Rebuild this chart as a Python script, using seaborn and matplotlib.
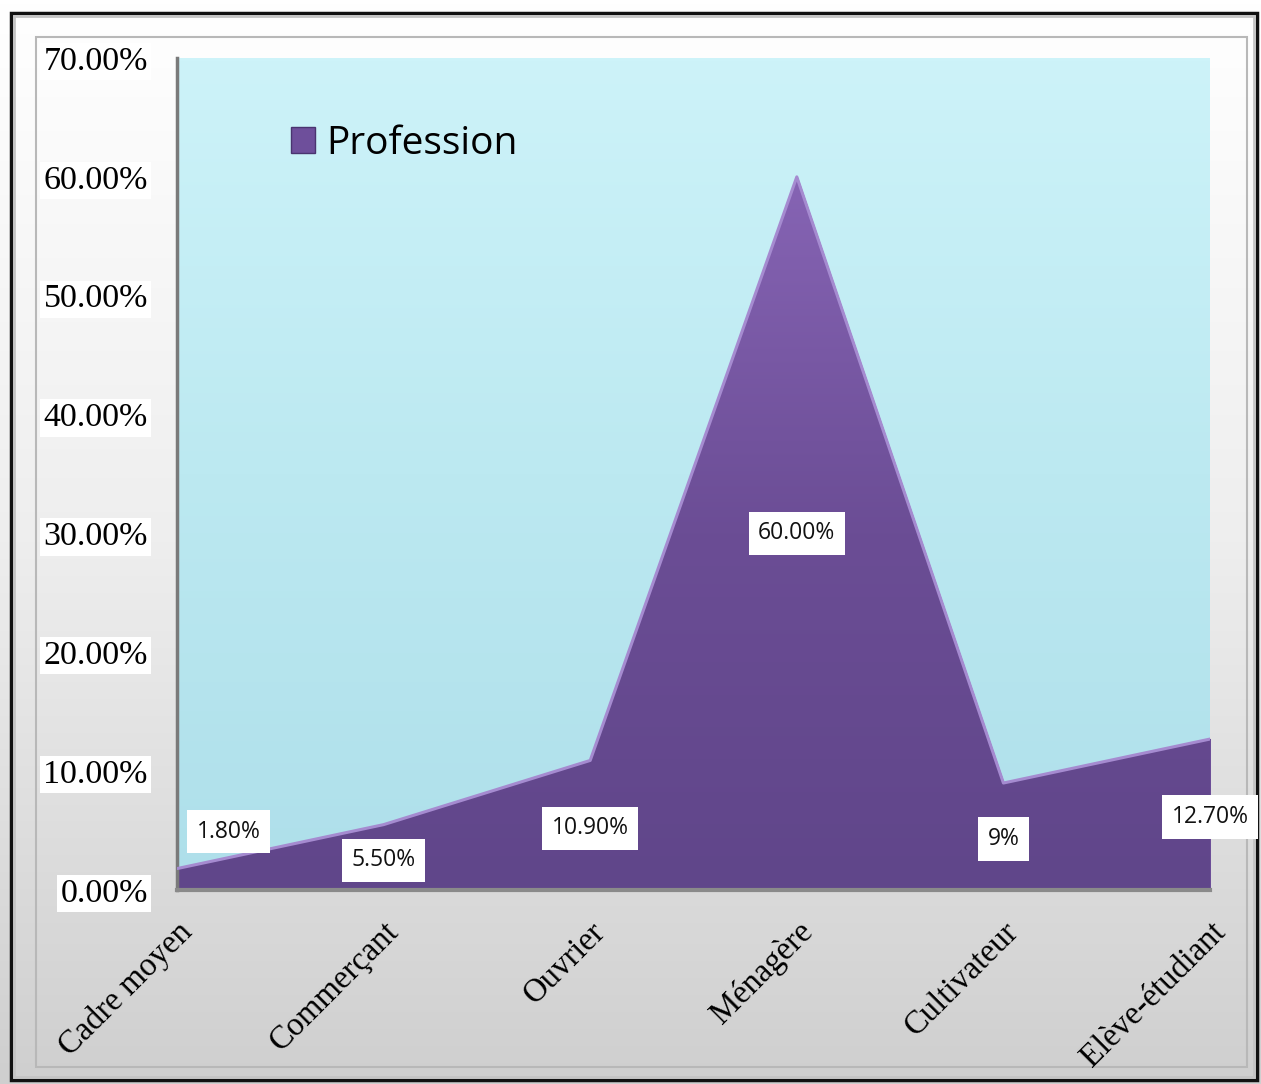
import matplotlib
matplotlib.use('Agg')
import numpy as np
import pandas as pd
import seaborn as sns
import matplotlib.pyplot as plt
from matplotlib.patches import Rectangle, Patch
from matplotlib.colors import LinearSegmentedColormap

# data
categories = ['Cadre moyen', 'Commerçant', 'Ouvrier', 'Ménagère', 'Cultivateur', 'Elève-étudiant']
values = [1.8, 5.5, 10.9, 60.0, 9.0, 12.7]
value_labels = ['1.80%', '5.50%', '10.90%', '60.00%', '9%', '12.70%']
yticks = [0, 10, 20, 30, 40, 50, 60, 70]
ytick_labels = ['0.00%', '10.00%', '20.00%', '30.00%', '40.00%', '50.00%', '60.00%', '70.00%']

# where Excel put the data labels (x, y in data units)
label_pos = [(0.25, 4.9), (1, 2.5), (2, 5.2), (3, 30), (4, 4.3), (5, 6.15)]

df = pd.DataFrame({'Profession': categories, 'Part': values})
df['pos'] = range(len(df))

sns.set_theme(style='white')
plt.rcParams['font.family'] = ['Liberation Serif', 'DejaVu Serif']
plt.rcParams['text.color'] = 'black'
plt.rcParams['xtick.color'] = 'black'
plt.rcParams['ytick.color'] = 'black'

W, H = 1261, 1084
fig = plt.figure(figsize=(W / 100, H / 100), dpi=100)

# chart area background: white -> grey gradient with frame
bg = fig.add_axes([0, 0, 1, 1], zorder=-10)
grad = np.linspace(0, 1, 256).reshape(-1, 1)
bg_cmap = LinearSegmentedColormap.from_list('bg', ['#ffffff', '#eeeeee', '#cfcfcf'])
bg.imshow(grad, cmap=bg_cmap, aspect='auto', extent=[0, 1, 0, 1])
bg.set_xlim(0, 1)
bg.set_ylim(0, 1)
bg.axis('off')


def fr(x0, y0, x1, y1, **kw):
    bg.add_patch(Rectangle((x0 / W, 1 - y1 / H), (x1 - x0) / W, (y1 - y0) / H, fill=False, **kw))


fr(11, 13, 1257, 1080, edgecolor='#111111', lw=2.5)
fr(14, 16, 1254, 1077, edgecolor='#c4c4c4', lw=2)
fr(36, 37, 1247, 1067, edgecolor='#b8b8b8', lw=1.5)

# plot area
ax = fig.add_axes([177 / W, (H - 890) / H, 1033 / W, 832 / H])

cyan = LinearSegmentedColormap.from_list('cy', ['#aedfea', '#bce9f1', '#cdf3f9'])
ax.imshow(np.linspace(0, 1, 256).reshape(-1, 1), cmap=cyan, origin='lower',
          aspect='auto', extent=[0, 5, 0, 70], zorder=0)

poly = ax.fill_between(df['pos'], df['Part'], color='#6c4e98', zorder=1, label='Profession')
purple = LinearSegmentedColormap.from_list('pu', ['#60468a', '#6b4d95', '#8664b4'])
im = ax.imshow(np.linspace(0, 1, 256).reshape(-1, 1), cmap=purple, origin='lower',
               aspect='auto', extent=[0, 5, 0, 60], zorder=2)
im.set_clip_path(poly.get_paths()[0], transform=ax.transData)

sns.lineplot(data=df, x='pos', y='Part', color='#a58bd0', lw=2.2, ax=ax, zorder=3)

ax.set_xlim(0, 5)
ax.set_ylim(0, 70)
ax.set_xlabel('')
ax.set_ylabel('')
ax.set_yticks(yticks)
ax.set_yticklabels(ytick_labels, fontsize=24.5)
ax.set_xticks(df['pos'])
ax.set_xticklabels(df['Profession'], fontsize=23.5, rotation=45, ha='right',
                   va='top', rotation_mode='anchor')
ax.tick_params(axis='y', length=0, pad=21)
ax.tick_params(axis='x', length=0, pad=19)
for t in ax.get_yticklabels():
    t.set_bbox(dict(facecolor='white', edgecolor='none', boxstyle='square,pad=0.1'))

for s in ['top', 'right']:
    ax.spines[s].set_visible(False)
ax.spines['left'].set_color('#7a7a7a')
ax.spines['left'].set_linewidth(2.5)
ax.spines['bottom'].set_color('#8a8a8a')
ax.spines['bottom'].set_linewidth(3)

for (lx, ly), txt in zip(label_pos, value_labels):
    ax.text(lx, ly, txt, ha='center', va='center', fontsize=16.5, family=['Open Sans', 'DejaVu Sans'],
            color='#111111', zorder=5, clip_on=False,
            bbox=dict(facecolor='white', edgecolor='none', boxstyle='square,pad=0.42'))

ax.legend(handles=[Patch(facecolor='#6e4f9b', edgecolor='#4a3470', label='Profession')],
          loc='upper left', bbox_to_anchor=(0.076, 0.962), frameon=False,
          prop={'family': ['Open Sans', 'DejaVu Sans'], 'size': 28},
          handlelength=0.62, handleheight=0.62, handletextpad=0.3)

fig.savefig('out.png', dpi=100)
